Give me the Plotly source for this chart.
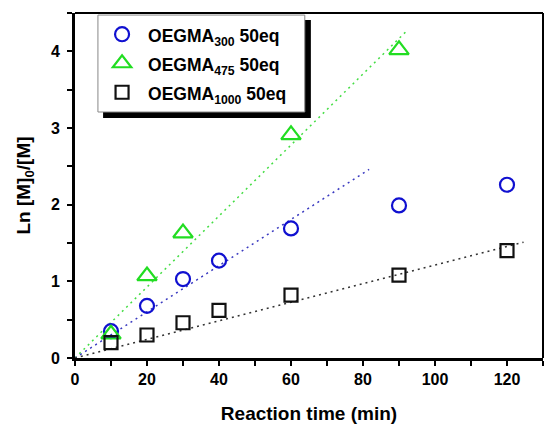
import plotly.graph_objects as go

# ---- data ----
time_300 = [10, 20, 30, 40, 60, 90, 120]
ln_300 = [0.35, 0.68, 1.03, 1.27, 1.69, 1.99, 2.26]

time_475 = [10, 20, 30, 60, 90]
ln_475 = [0.31, 1.07, 1.63, 2.91, 4.02]

time_1000 = [10, 20, 30, 40, 60, 90, 120]
ln_1000 = [0.20, 0.30, 0.46, 0.62, 0.82, 1.08, 1.40]

# linear fits through origin: start/end points
fit_300_x = [0, 81.7]
fit_300_y = [0, 2.46]
fit_475_x = [0, 92]
fit_475_y = [0, 4.26]
fit_1000_x = [0, 124.6]
fit_1000_y = [0, 1.51]

names = ["OEGMA<sub>300</sub> 50eq", "OEGMA<sub>475</sub> 50eq", "OEGMA<sub>1000</sub> 50eq"]

BLUE = "#1010d0"
GREEN = "#22dd22"
BLACK = "#111111"
FONT = "Liberation Sans, Arial, sans-serif"


def legend_label(s):
    return '<span style="font-size:17.5px">' + s + '</span>'


fig = go.Figure()

# fit lines
fig.add_trace(go.Scatter(x=fit_475_x, y=fit_475_y, mode="lines", showlegend=False,
                         line=dict(color="#44dd44", width=1.5, dash="2px,4px"), hoverinfo="skip"))
fig.add_trace(go.Scatter(x=fit_300_x, y=fit_300_y, mode="lines", showlegend=False,
                         line=dict(color="#3a3ac0", width=1.5, dash="2px,4px"), hoverinfo="skip"))
fig.add_trace(go.Scatter(x=fit_1000_x, y=fit_1000_y, mode="lines", showlegend=False,
                         line=dict(color="#333333", width=1.5, dash="2px,4px"), hoverinfo="skip"))

# data points
fig.add_trace(go.Scatter(x=time_300, y=ln_300, mode="markers", name=legend_label(names[0]),
                         marker=dict(symbol="circle-open", size=14, color=BLUE, line=dict(width=2.2, color=BLUE))))
fig.add_trace(go.Scatter(x=time_475, y=ln_475, mode="markers", name=legend_label(names[1]),
                         marker=dict(symbol="triangle-up-open", size=17, color=GREEN, line=dict(width=2.2, color=GREEN))))
fig.add_trace(go.Scatter(x=time_1000, y=ln_1000, mode="markers", name=legend_label(names[2]),
                         marker=dict(symbol="square-open", size=13, color=BLACK, line=dict(width=2.2, color=BLACK))))

axis_common = dict(
    showline=True, linecolor="black", linewidth=3, mirror=False,
    ticks="outside", ticklen=5, tickwidth=2, tickcolor="black",
    showgrid=False, zeroline=False, automargin=False,
    tickfont=dict(family=FONT, size=16, color="black", weight="bold"),
)

fig.update_xaxes(range=[0, 130], tick0=0, dtick=20,
                 minor=dict(dtick=10, ticklen=5, tickwidth=2, tickcolor="black", ticks="outside"),
                 title=dict(text="Reaction time (min)", font=dict(family=FONT, size=19, color="black", weight="bold"),
                            standoff=20),
                 **axis_common)
fig.update_yaxes(range=[0, 4.5], tick0=0, dtick=1,
                 minor=dict(dtick=0.5, ticklen=5, tickwidth=2, tickcolor="black", ticks="outside"),
                 ticklabelstandoff=4,
                 title=dict(text="Ln [M]<sub>0</sub>/[M]", font=dict(family=FONT, size=19, color="black", weight="bold"),
                            standoff=16),
                 **axis_common)

# top/right frame lines, legend box with shadow
shapes = [
    dict(type="line", xref="paper", yref="paper", x0=0, x1=1, y0=1, y1=1, line=dict(color="black", width=2)),
    dict(type="line", xref="paper", yref="paper", x0=1, x1=1, y0=0, y1=1, line=dict(color="black", width=2)),
    # shadow
    dict(type="rect", xref="paper", yref="paper", x0=0.060, x1=0.504, y0=0.696, y1=0.980,
         fillcolor="black", line=dict(width=0), layer="above"),
    # box
    dict(type="rect", xref="paper", yref="paper", x0=0.049, x1=0.491, y0=0.713, y1=0.994,
         fillcolor="white", line=dict(color="#888888", width=1), layer="above"),
]

fig.update_layout(
    width=545, height=427,
    margin=dict(l=75, r=2, t=13, b=69),
    paper_bgcolor="white", plot_bgcolor="white",
    shapes=shapes,
    showlegend=True,
    legend=dict(x=0.045, y=0.995, xanchor="left", yanchor="top",
                bgcolor="rgba(0,0,0,0)", borderwidth=0,
                font=dict(family=FONT, size=20, color="black", weight="bold"),
                itemwidth=42, tracegroupgap=0),
)

fig.write_html("out.html", config={"displayModeBar": False},
               post_script="document.body.style.margin='0px';document.body.style.overflow='hidden';")
